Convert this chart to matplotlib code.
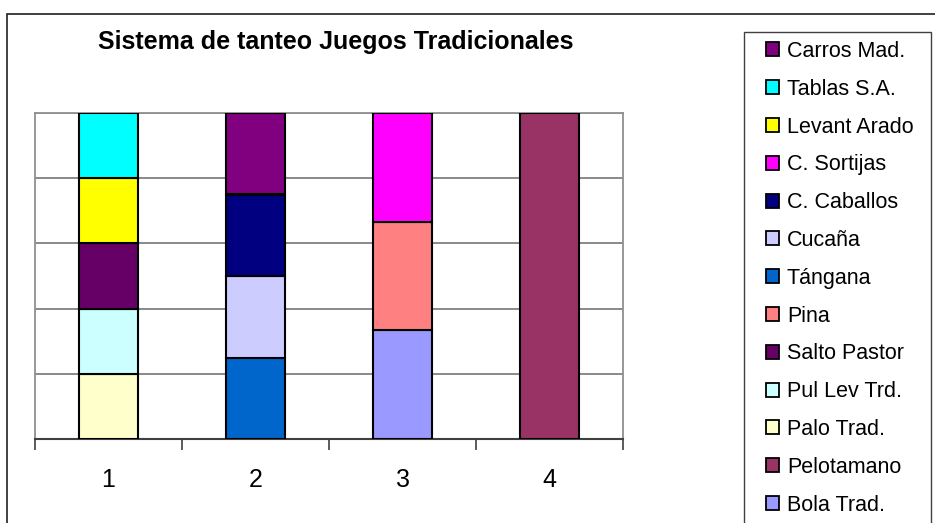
import matplotlib
matplotlib.use("Agg")
import matplotlib.pyplot as plt
from matplotlib.patches import Rectangle
import numpy as np

plt.rcParams['font.family'] = ['Liberation Sans', 'DejaVu Sans']

categories = ["1", "2", "3", "4"]

# Series in stacking order (first = bottom); raw counts per category
series_names = ["Bola Trad.", "Pelotamano", "Palo Trad.", "Pul Lev Trd.",
                "Salto Pastor", "Pina", "Tángana", "Cucaña", "C. Caballos",
                "C. Sortijas", "Levant Arado", "Tablas S.A.", "Carros Mad."]
bola_trad = [0, 0, 1, 0]
pelotamano = [0, 0, 0, 1]
palo_trad = [1, 0, 0, 0]
pul_lev_trd = [1, 0, 0, 0]
salto_pastor = [1, 0, 0, 0]
pina = [0, 0, 1, 0]
tangana = [0, 1, 0, 0]
cucana = [0, 1, 0, 0]
c_caballos = [0, 1, 0, 0]
c_sortijas = [0, 0, 1, 0]
levant_arado = [1, 0, 0, 0]
tablas_sa = [1, 0, 0, 0]
carros_mad = [0, 1, 0, 0]
series_values = [bola_trad, pelotamano, palo_trad, pul_lev_trd, salto_pastor,
                 pina, tangana, cucana, c_caballos, c_sortijas, levant_arado,
                 tablas_sa, carros_mad]
series_colors = ["#9999FF", "#993366", "#FFFFCC", "#CCFFFF", "#660066",
                 "#FF8080", "#0066CC", "#CCCCFF", "#000080", "#FF00FF",
                 "#FFFF00", "#00FFFF", "#800080"]

W, H = 935, 523
fig = plt.figure(figsize=(W / 100, H / 100), dpi=100)
fig.patch.set_facecolor("white")

# outer chart frame (runs off the right and bottom edges)
fig.patches.append(Rectangle((7 / W, -0.05), 1.0, 1 - 14 / H + 0.05,
                             transform=fig.transFigure, fill=False,
                             edgecolor="#202020", linewidth=1.2))

ax = fig.add_axes([35 / W, 1 - 439 / H, 588 / W, 326 / H])

vals = np.array(series_values, dtype=float)
totals = vals.sum(axis=0)
pct = vals / totals * 100
x = np.arange(len(categories))
bottom = np.zeros(len(categories))
handles = []
for name, row, color in zip(series_names, pct, series_colors):
    mask = row > 0
    bars = ax.bar(x[mask], row[mask], width=0.4, bottom=bottom[mask],
                  color=color, edgecolor="black", linewidth=1.5,
                  label=name, zorder=3)
    handles.append(bars)
    bottom += row

ax.set_xlim(-0.5, len(categories) - 0.5)
ax.set_ylim(0, 100)
ax.set_yticks(np.arange(0, 101, 20))
ax.yaxis.grid(True, color="#808080", linewidth=1.3)
ax.tick_params(axis="y", length=0, labelleft=False)
ax.set_xticks(x)
ax.set_xticklabels(categories, fontsize=18)
ax.set_xticks(np.arange(-0.5, len(categories), 1.0), minor=True)
ax.tick_params(axis="x", which="major", length=0, pad=21)
ax.tick_params(axis="x", which="minor", length=8, width=1.2, color="#404040",
               direction="out")
for side in ("left", "right", "top"):
    ax.spines[side].set_color("#909090")
    ax.spines[side].set_linewidth(1.3)
ax.spines["bottom"].set_color("#404040")
ax.spines["bottom"].set_linewidth(1.5)
ax.set_axisbelow(True)

fig.text(335.5 / W, 1 - 42 / H, "Sistema de tanteo Juegos Tradicionales",
         ha="center", va="center", fontsize=18, fontweight="bold")

# legend box (runs off the bottom edge)
fig.patches.append(Rectangle((744 / W, -0.05), (931 - 744) / W,
                             1 - 32 / H + 0.05, transform=fig.transFigure,
                             fill=False, edgecolor="#404040", linewidth=1.0))
leg = fig.legend(handles[::-1], series_names[::-1], loc="upper left",
                 bbox_to_anchor=(766 / W, 1 - 41 / H), frameon=False,
                 fontsize=15.5, handlelength=0.62, handleheight=0.62,
                 handletextpad=0.35, labelspacing=0.78, borderpad=0,
                 borderaxespad=0)
for h in leg.legend_handles:
    h.set_linewidth(1.3)

fig.savefig("out.png", dpi=100, facecolor="white")
